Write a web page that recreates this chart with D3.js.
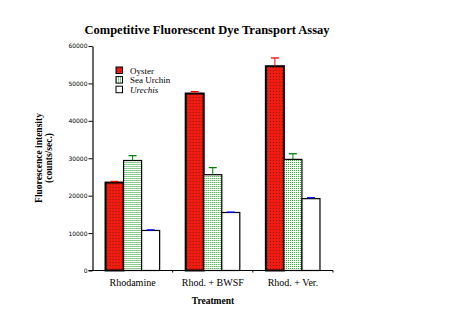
<!DOCTYPE html>
<html>
<head>
<meta charset="utf-8">
<script src="https://cdn.jsdelivr.net/npm/d3@7"></script>
<style>
  html, body { margin: 0; padding: 0; background: #fff; }
  svg { display: block; }
</style>
</head>
<body>
<svg id="chart" width="456" height="327"></svg>
<script>
// Treatments along the x axis
const treatments = ["Rhodamine", "Rhod. + BWSF", "Rhod. + Ver."];
// Species (legend order)
const species = ["Oyster", "Sea Urchin", "Urechis"];
// Mean fluorescence intensity (counts/sec.) per treatment, one array per species
const oysterValues = [23500, 47300, 54600];
const urchinValues = [29400, 25600, 29700];
const urechisValues = [10700, 15500, 19200];
// Standard error per bar
const oysterErrors = [300, 500, 2200];
const urchinErrors = [1300, 1900, 1500];
const urechisErrors = [150, 100, 250];
// Y axis ticks
const yTicks = [0, 10000, 20000, 30000, 40000, 50000, 60000];

const seriesValues = [oysterValues, urchinValues, urechisValues];
const seriesErrors = [oysterErrors, urchinErrors, urechisErrors];
const errColors = ["#ff0000", "#008000", "#0000ff"];
const SERIF = "'Liberation Serif', 'Times New Roman', serif";

const svg = d3.select("#chart");
const margin = { left: 92.5, right: 123, top: 46, bottom: 56.5 };
const W = 456, H = 327;

// Fill patterns
const defs = svg.append("defs");
const pO = defs.append("pattern").attr("id", "pOyster")
  .attr("patternUnits", "userSpaceOnUse").attr("width", 3).attr("height", 3);
pO.append("rect").attr("width", 3).attr("height", 3).attr("fill", "#f01c10");
pO.append("rect").attr("x", 1).attr("y", 1).attr("width", 1).attr("height", 1).attr("fill", "#8a1a10");
const pU = defs.append("pattern").attr("id", "pUrchin")
  .attr("patternUnits", "userSpaceOnUse").attr("width", 2).attr("height", 2);
pU.append("rect").attr("width", 2).attr("height", 2).attr("fill", "#ffffff");
pU.append("rect").attr("x", 0).attr("y", 0).attr("width", 1).attr("height", 1).attr("fill", "#1a9a1a");
const fills = ["url(#pOyster)", "url(#pUrchin)", "#ffffff"];
const strokeW = [2, 1.2, 1.2];

const x0 = d3.scaleBand().domain(treatments)
  .range([margin.left, W - margin.right]).paddingInner(0.325).paddingOuter(0.1625);
const x1 = d3.scaleBand().domain(species).range([0, x0.bandwidth()]);
const y = d3.scaleLinear().domain([0, 60000]).range([H - margin.bottom, margin.top]);

// Title
svg.append("text")
  .style("font-family", SERIF)
  .attr("x", 207).attr("y", 34)
  .attr("text-anchor", "middle")
  .attr("font-weight", "bold").attr("font-size", 12.5)
  .text("Competitive Fluorescent Dye Transport Assay");

// Bars
const groups = svg.append("g").selectAll("g")
  .data(treatments).join("g")
  .attr("transform", d => `translate(${x0(d)},0)`);

species.forEach((sp, si) => {
  groups.append("rect")
    .attr("x", x1(sp))
    .attr("y", (d, i) => y(seriesValues[si][i]))
    .attr("width", x1.bandwidth())
    .attr("height", (d, i) => y(0) - y(seriesValues[si][i]))
    .attr("fill", fills[si])
    .attr("stroke", "#000")
    .attr("stroke-width", strokeW[si]);
});

// Error bars (upper only)
species.forEach((sp, si) => {
  groups.each(function (d, i) {
    const g = d3.select(this);
    const cx = x1(sp) + x1.bandwidth() / 2;
    const top = y(seriesValues[si][i] + seriesErrors[si][i]);
    const base = y(seriesValues[si][i]);
    g.append("line").attr("x1", cx).attr("x2", cx).attr("y1", base).attr("y2", top)
      .attr("stroke", errColors[si]).attr("stroke-width", 1);
    g.append("line").attr("x1", cx - 4).attr("x2", cx + 4).attr("y1", top).attr("y2", top)
      .attr("stroke", errColors[si]).attr("stroke-width", 1.3);
  });
});

// Y axis
const yAxis = d3.axisLeft(y).tickValues(yTicks).tickSize(4).tickSizeOuter(0)
  .tickFormat(d3.format("d"));
const gy = svg.append("g").attr("transform", `translate(${margin.left},0)`).call(yAxis);
gy.select(".domain").attr("stroke", "#000").attr("stroke-width", 1.2);
gy.selectAll(".tick line").attr("stroke", "#000");
gy.selectAll(".tick text")
  .style("font-family", "'DejaVu Sans', sans-serif").style("font-size", "6px").attr("x", -5);

// X axis with ticks at band boundaries
const xAxisLine = svg.append("g");
xAxisLine.append("line")
  .attr("x1", margin.left - 4).attr("x2", W - margin.right)
  .attr("y1", y(0)).attr("y2", y(0))
  .attr("stroke", "#000").attr("stroke-width", 1.2);
const step = x0.step();
const boundaries = treatments.map((d, i) => margin.left + step * (i + 1));
xAxisLine.selectAll("line.b").data(boundaries).join("line").attr("class", "b")
  .attr("x1", d => d).attr("x2", d => d).attr("y1", y(0)).attr("y2", y(0) + 2)
  .attr("stroke", "#000");
svg.append("g").selectAll("text").data(treatments).join("text")
  .style("font-family", SERIF).style("font-size", "10px")
  .attr("x", d => x0(d) + x0.bandwidth() / 2)
  .attr("y", y(0) + 15)
  .attr("text-anchor", "middle")
  .text(d => d);

// Axis titles
svg.append("text")
  .style("font-family", SERIF).style("font-size", "9.5px").style("font-weight", "bold")
  .attr("x", 213).attr("y", 304)
  .attr("text-anchor", "middle")
  .text("Treatment");

const yt = svg.append("text")
  .style("font-family", SERIF).style("font-size", "9.5px").style("font-weight", "bold")
  .attr("transform", "translate(42,158) rotate(-90)")
  .attr("text-anchor", "middle");
yt.append("tspan").attr("x", 0).attr("y", 0).text("Fluorescence intensity");
yt.append("tspan").attr("x", 0).attr("y", 9.5).text("(counts/sec.)");

// Legend
const legend = svg.append("g").selectAll("g").data(species).join("g")
  .attr("transform", (d, i) => `translate(116,${67 + i * 9.6})`);
legend.append("rect").attr("width", 6.5).attr("height", 6.5)
  .attr("fill", (d, i) => fills[i]).attr("stroke", "#000").attr("stroke-width", 1);
legend.append("text")
  .style("font-family", SERIF).style("font-size", "9px")
  .style("font-style", (d, i) => i === 2 ? "italic" : "normal")
  .attr("x", 14).attr("y", 6.5)
  .text(d => d);
</script>
</body>
</html>
